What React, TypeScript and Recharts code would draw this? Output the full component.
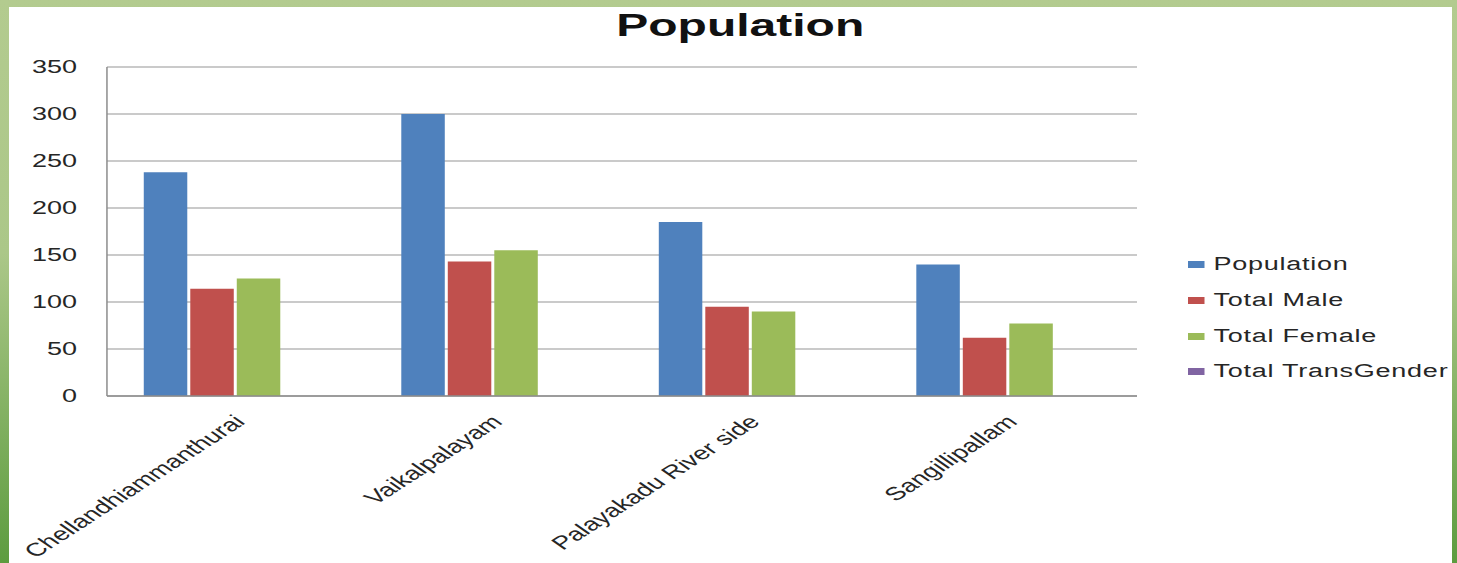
import { BarChart, Bar, XAxis, YAxis, CartesianGrid } from "recharts"

const villages = ["Chellandhiammanthurai", "Vaikalpalayam", "Palayakadu River side", "Sangillipallam"]
const population = [238, 300, 185, 140]
const totalMale = [114, 143, 95, 62]
const totalFemale = [125, 155, 90, 77]
const totalTransGender = [0, 0, 0, 0]
const yTicks = [0, 50, 100, 150, 200, 250, 300, 350]

const series = [
  { key: "population", name: "Population", color: "#4f81bd" },
  { key: "male", name: "Total Male", color: "#c0504d" },
  { key: "female", name: "Total Female", color: "#9bbb59" },
  { key: "trans", name: "Total TransGender", color: "#8064a2" },
]

const data = villages.map((name, i) => ({
  name,
  population: population[i],
  male: totalMale[i],
  female: totalFemale[i],
  trans: totalTransGender[i],
}))

// the source slide is stretched sideways, so the chart is drawn narrow and scaled
const SX = 1.5
const W = 1443 / SX
const H = 556
const FONT = "'Liberation Sans', Arial, sans-serif"

const XTick = ({ x, y, payload }: any) => (
  <g transform={`translate(${x + 7},${y + 25})`}>
    <text textAnchor="end" transform="rotate(-44)" fontSize={18.5} fill="#262626" fontFamily={FONT}>
      {payload.value}
    </text>
  </g>
)

export default function App() {
  return (
    <div
      style={{
        position: "absolute",
        left: 0,
        top: 0,
        width: 1457,
        height: 563,
        overflow: "hidden",
        background: "linear-gradient(to bottom, #b3cb8f 0%, #abc788 45%, #5d9c3f 100%)",
      }}
    >
      <div style={{ position: "absolute", left: 9, top: 7, width: 1443, height: 556, background: "#fff", overflow: "hidden" }}>
        <div style={{ position: "absolute", left: 0, top: 0, width: W, height: H, transform: `scaleX(${SX})`, transformOrigin: "0 0" }}>
          <div
            style={{
              position: "absolute",
              left: 0,
              width: 975,
              top: 1,
              textAlign: "center",
              fontFamily: FONT,
              fontWeight: 700,
              fontSize: 32,
              lineHeight: "34px",
              color: "#111",
            }}
          >
            Population
          </div>
          <BarChart
            width={W}
            height={H}
            data={data}
            margin={{ top: 60, right: W - 752, left: 0, bottom: 0 }}
            barCategoryGap="14.3%"
            barGap={2}
          >
            <CartesianGrid horizontal vertical={false} stroke="#b8b8b8" strokeWidth={1.5} />
            <XAxis
              dataKey="name"
              height={167}
              axisLine={{ stroke: "#8c8c8c", strokeWidth: 1.5 }}
              tickLine={false}
              tickSize={0}
              interval={0}
              tick={<XTick />}
            />
            <YAxis
              domain={[0, 350]}
              ticks={yTicks}
              width={65.3}
              axisLine={{ stroke: "#8c8c8c", strokeWidth: 1 }}
              tickLine={false}
              tickSize={0}
              tickMargin={20}
              tick={{ fontSize: 18, fill: "#262626", fontFamily: FONT }}
            />
            {series.map((s) => (
              <Bar key={s.key} dataKey={s.key} name={s.name} fill={s.color} isAnimationActive={false} />
            ))}
          </BarChart>
          <div
            style={{
              position: "absolute",
              left: 786,
              top: 240,
              fontFamily: FONT,
              fontSize: 18,
              letterSpacing: 0.5,
              color: "#262626",
            }}
          >
            {series.map((s) => (
              <div key={s.key} style={{ display: "flex", alignItems: "center", height: 35.7, whiteSpace: "nowrap" }}>
                <span style={{ width: 10.5, height: 7, background: s.color, marginRight: 6.5, display: "inline-block" }} />
                <span>{s.name}</span>
              </div>
            ))}
          </div>
        </div>
      </div>
    </div>
  )
}
